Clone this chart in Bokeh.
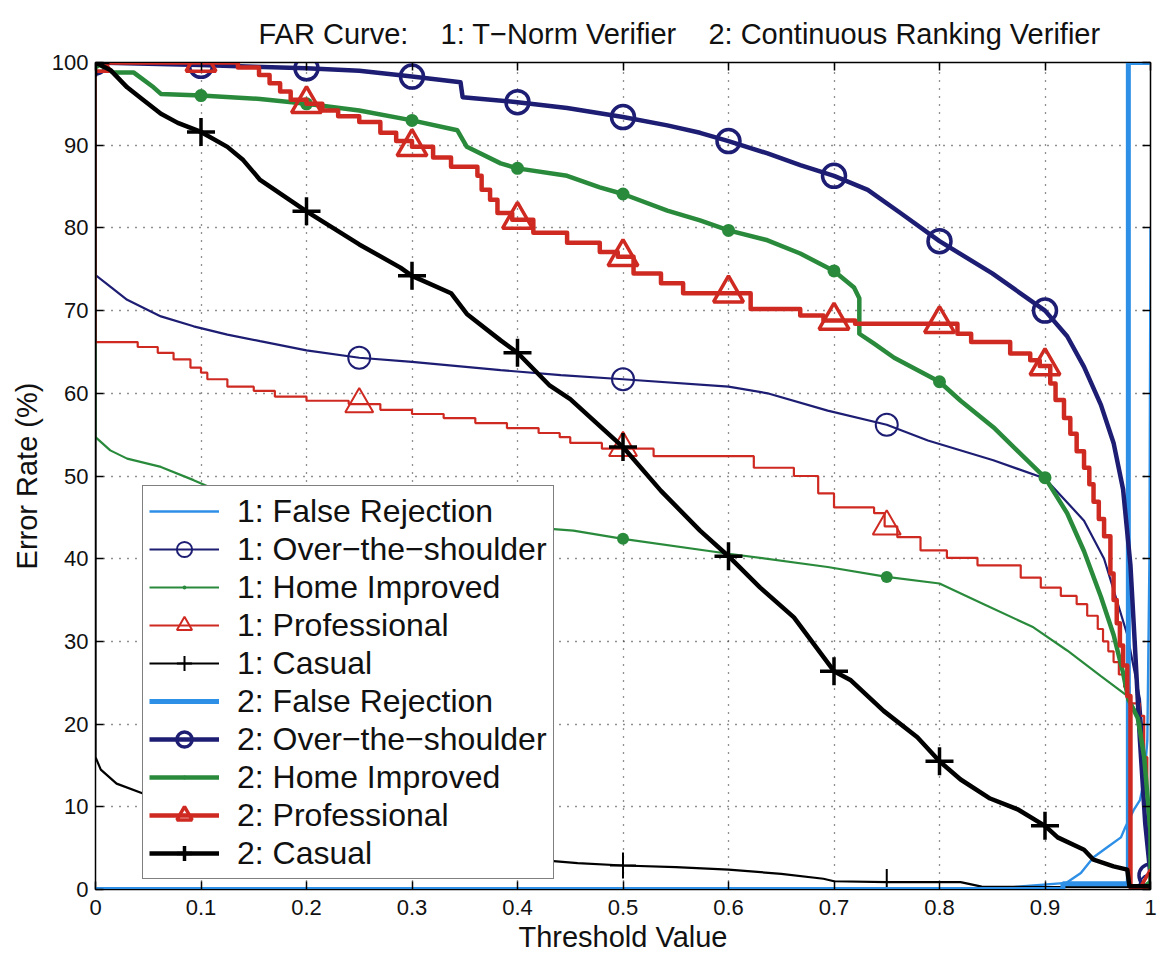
from bokeh.plotting import figure
from bokeh.models import (Range1d, LinearAxis, FixedTicker, CustomJSTickFormatter,
                          Legend, LegendItem)
from bokeh.embed import file_html
from bokeh.resources import INLINE

FONT = "Liberation Sans"
NB = "\u00a0"
TITLE = "FAR Curve:" + NB * 4 + "1: T\u2212Norm Verifier" + NB * 4 + "2: Continuous Ranking Verifier"

x_ticks = [0.0, 0.1, 0.2, 0.3, 0.4, 0.5, 0.6, 0.7, 0.8, 0.9, 1.0]
y_ticks = [0, 10, 20, 30, 40, 50, 60, 70, 80, 90, 100]

labels = ["1: False Rejection", "1: Over\u2212the\u2212shoulder", "1: Home Improved",
          "1: Professional", "1: Casual",
          "2: False Rejection", "2: Over\u2212the\u2212shoulder", "2: Home Improved",
          "2: Professional", "2: Casual"]

# marker positions (x) for thin (verifier 1) and thick (verifier 2) curves
thin_mx = [0.0, 0.25, 0.5, 0.75, 1.0]
thick_mx = [0.0, 0.1, 0.2, 0.3, 0.4, 0.5, 0.6, 0.7, 0.8, 0.9, 1.0]

# ---------------- 1: T-Norm verifier ----------------
fr1_x = [0.0, 0.85, 0.88, 0.92, 0.934, 0.946, 0.959, 0.972, 0.976, 0.984, 0.99, 0.994, 0.997, 0.999, 1.0]
fr1_y = [0.0, 0.0, 0.4, 0.8, 2.0, 3.9, 5.1, 6.3, 7.5, 9.6, 10.8, 13.2, 18.0, 40.0, 80.0]

ots1_x = [0.0, 0.0, 0.014, 0.03, 0.062, 0.093, 0.125, 0.156, 0.2, 0.25, 0.3, 0.384, 0.441, 0.5,
          0.6, 0.637, 0.694, 0.75, 0.789, 0.851, 0.9, 0.937, 0.956, 0.978, 0.99, 0.997, 1.0]
ots1_y = [100.0, 74.3, 72.9, 71.3, 69.3, 68.1, 67.1, 66.3, 65.2, 64.3, 63.8, 62.8, 62.2, 61.7,
          60.8, 60.0, 57.9, 56.2, 54.3, 51.9, 49.7, 44.6, 40.0, 30.8, 23.0, 11.5, 0.5]
ots1_my = [100.0, 64.3, 61.7, 56.2, 0.5]

hi1_x = [0.0, 0.0, 0.014, 0.03, 0.062, 0.093, 0.12, 0.2, 0.25, 0.3, 0.4, 0.453, 0.5, 0.6,
         0.694, 0.75, 0.8, 0.842, 0.889, 0.921, 0.953, 0.978, 0.99, 0.997, 1.0]
hi1_y = [100.0, 54.7, 53.1, 52.1, 51.1, 49.5, 48.0, 46.3, 45.4, 44.7, 43.9, 43.4, 42.4, 40.6,
         39.0, 37.8, 37.0, 34.5, 31.7, 28.9, 25.8, 23.4, 20.7, 11.5, 0.3]
hi1_my = [100.0, 45.4, 42.4, 37.8, 0.3]

pro1_x = [0.0, 0.0, 0.04, 0.059, 0.074, 0.09, 0.1, 0.106, 0.125, 0.15, 0.17, 0.2, 0.24, 0.27,
          0.3, 0.33, 0.36, 0.39, 0.42, 0.44, 0.45, 0.48, 0.529, 0.624, 0.662, 0.685, 0.7,
          0.738, 0.748, 0.76, 0.782, 0.807, 0.836, 0.877, 0.896, 0.915, 0.93, 0.94, 0.95,
          0.955, 0.96, 0.965, 0.97, 0.975, 0.98, 0.99, 0.994, 0.997, 1.0]
pro1_y = [100.0, 66.2, 65.6, 64.9, 64.1, 63.1, 62.5, 61.7, 60.8, 60.3, 59.6, 59.1, 58.7, 58.0,
          57.5, 57.0, 56.4, 55.8, 55.2, 54.7, 54.0, 53.3, 52.4, 51.0, 50.0, 47.9, 46.2,
          45.5, 43.9, 42.6, 41.0, 40.1, 39.2, 37.7, 36.5, 35.5, 34.5, 33.1, 31.5,
          30.0, 28.8, 27.5, 26.0, 24.5, 22.5, 21.0, 16.0, 10.0, 0.3]
pro1_my = [100.0, 58.7, 53.4, 43.9, 0.3]

cas1_x = [0.0, 0.0, 0.005, 0.02, 0.045, 0.1, 0.2, 0.3, 0.4, 0.457, 0.5, 0.55, 0.6, 0.65,
          0.69, 0.7, 0.75, 0.82, 0.84, 0.9, 0.98, 1.0]
cas1_y = [100.0, 16.0, 14.5, 12.8, 11.6, 9.5, 7.0, 5.3, 3.8, 3.2, 2.9, 2.7, 2.4, 1.9,
          1.3, 1.0, 0.9, 0.9, 0.35, 0.3, 0.3, 0.1]
cas1_my = [100.0, 6.0, 2.9, 0.9, 0.1]

# ---------------- 2: Continuous ranking verifier ----------------
fr2_x = [0.0, 0.917, 0.917, 0.979, 0.979, 1.0]
fr2_y = [0.0, 0.0, 0.7, 0.7, 100.0, 100.0]

ots2_x = [0.0, 0.1, 0.15, 0.2, 0.25, 0.3, 0.346, 0.348, 0.4, 0.447, 0.5, 0.542, 0.573, 0.6,
          0.637, 0.668, 0.7, 0.732, 0.763, 0.8, 0.85, 0.9, 0.921, 0.937, 0.953, 0.965, 0.974,
          0.981, 0.985, 0.99, 0.995, 1.0]
ots2_y = [100.0, 99.7, 99.5, 99.3, 99.0, 98.3, 97.6, 95.8, 95.2, 94.5, 93.4, 92.4, 91.5, 90.5,
          89.0, 87.6, 86.3, 84.6, 81.8, 78.4, 74.5, 70.0, 66.9, 63.2, 58.6, 54.0, 48.4,
          39.2, 30.0, 18.0, 8.0, 1.7]
ots2_my = [100.0, 99.6, 99.3, 98.3, 95.2, 93.4, 90.5, 86.3, 78.4, 70.0, 1.7]

hi2_x = [0.0, 0.017, 0.036, 0.055, 0.062, 0.1, 0.156, 0.2, 0.25, 0.3, 0.343, 0.352, 0.384,
         0.4, 0.447, 0.478, 0.5, 0.542, 0.573, 0.6, 0.637, 0.668, 0.7, 0.719, 0.724, 0.724,
         0.738, 0.757, 0.8, 0.82, 0.851, 0.9, 0.921, 0.937, 0.953, 0.965, 0.974, 0.979,
         0.988, 0.994, 1.0, 1.0]
hi2_y = [100.0, 98.8, 98.8, 97.0, 96.2, 96.0, 95.6, 95.0, 94.2, 93.0, 91.8, 89.8, 87.8,
         87.2, 86.3, 84.9, 84.1, 82.1, 80.9, 79.7, 78.5, 76.9, 74.8, 72.8, 71.5, 67.2,
         66.0, 64.3, 61.4, 59.1, 55.9, 49.8, 45.5, 40.9, 35.4, 30.8, 26.2, 23.0,
         20.7, 16.0, 7.0, 0.3]
hi2_my = [100.0, 96.0, 95.0, 93.0, 87.2, 84.1, 79.7, 74.8, 61.4, 49.8, 0.3]

pro2_x = [0.0, 0.135, 0.155, 0.165, 0.175, 0.185, 0.2, 0.215, 0.23, 0.25, 0.27, 0.285, 0.3,
          0.32, 0.337, 0.362, 0.366, 0.374, 0.381, 0.395, 0.415, 0.447, 0.478, 0.495, 0.51,
          0.536, 0.557, 0.621, 0.668, 0.69, 0.72, 0.817, 0.83, 0.867, 0.886, 0.895, 0.905,
          0.91, 0.918, 0.924, 0.93, 0.937, 0.942, 0.946, 0.951, 0.956, 0.962, 0.965, 0.968,
          0.971, 0.974, 0.978, 0.981, 1.0]
pro2_y = [100.0, 99.4, 98.5, 97.5, 96.5, 95.5, 95.0, 94.2, 93.5, 92.8, 91.5, 90.5, 89.8,
          88.5, 87.4, 86.3, 84.6, 83.4, 81.8, 81.0, 79.4, 78.2, 77.1, 76.5, 74.5,
          73.3, 72.1, 70.2, 69.4, 68.8, 68.4, 67.2, 66.2, 64.8, 64.0, 63.3, 61.2,
          59.2, 57.0, 55.1, 53.0, 51.0, 49.0, 46.9, 44.8, 42.7, 38.2, 35.0, 32.2,
          29.5, 27.1, 23.4, 0.3, 0.3]
pro2_my = [100.0, 100.0, 95.0, 89.8, 81.0, 76.5, 72.1, 68.8, 68.4, 63.3, 0.3]

cas2_x = [0.0, 0.014, 0.03, 0.045, 0.062, 0.078, 0.1, 0.125, 0.14, 0.156, 0.2, 0.25, 0.289,
          0.3, 0.337, 0.352, 0.384, 0.4, 0.43, 0.45, 0.5, 0.536, 0.573, 0.6, 0.63, 0.662,
          0.7, 0.716, 0.747, 0.779, 0.8, 0.82, 0.848, 0.874, 0.9, 0.912, 0.937, 0.946,
          0.965, 0.978, 0.98, 1.0]
cas2_y = [100.0, 99.1, 97.0, 95.5, 93.8, 92.7, 91.6, 89.8, 88.2, 85.8, 82.0, 78.0, 75.2,
          74.2, 72.1, 69.6, 66.4, 64.9, 61.0, 59.3, 53.5, 48.2, 43.4, 40.3, 36.5, 32.9,
          26.4, 25.3, 21.6, 18.4, 15.5, 13.3, 11.0, 9.7, 7.7, 6.3, 4.8, 3.6,
          2.8, 2.4, 0.4, 0.4]
cas2_my = [100.0, 91.6, 82.0, 74.2, 64.9, 53.5, 40.3, 26.4, 15.5, 7.7, 0.4]

LBLUE = "#2e8fe6"
NAVY = "#1d1d73"
GREEN = "#2a8a3c"
RED = "#cf2a22"
BLACK = "#000000"

p = figure(width=1166, height=962, output_backend="svg", toolbar_location=None,
           x_range=Range1d(0, 1), y_range=Range1d(0, 100),
           min_border_left=95, min_border_right=16, min_border_top=62, min_border_bottom=73,
           title=TITLE, background_fill_color="white", border_fill_color="white")

p.title.text_font = FONT
p.title.text_font_size = "29px"
p.title.text_font_style = "normal"
p.title.align = "left"
p.title.offset = 163
p.title.standoff = 25
p.title.text_color = "#111111"

p.outline_line_color = "black"
p.outline_line_width = 1.5

for ax in (p.xaxis[0], p.yaxis[0]):
    ax.major_tick_in = 8
    ax.major_tick_out = 0
    ax.minor_tick_line_color = None
    ax.axis_line_color = "black"
    ax.major_tick_line_color = "black"
    ax.major_tick_line_width = 1.5
    ax.major_label_text_font = FONT
    ax.major_label_text_font_size = "22px"
    ax.major_label_text_color = "#111111"
    ax.axis_label_text_font = FONT
    ax.axis_label_text_font_size = "29px"
    ax.axis_label_text_font_style = "normal"
    ax.axis_label_text_color = "#111111"

p.xaxis.ticker = FixedTicker(ticks=x_ticks)
p.yaxis.ticker = FixedTicker(ticks=y_ticks)
p.xaxis.formatter = CustomJSTickFormatter(
    code="return (Math.abs(tick) < 1e-9 || Math.abs(tick - 1) < 1e-9) ? tick.toFixed(0) : tick.toFixed(1);")
p.xaxis.axis_label = "Threshold Value"
p.yaxis.axis_label = "Error Rate (%)"
p.xaxis.major_label_standoff = 10
p.yaxis.major_label_standoff = 7
p.xaxis.axis_label_standoff = 3
p.yaxis.axis_label_standoff = 6

top_ax = LinearAxis(ticker=FixedTicker(ticks=x_ticks), major_label_text_font_size="0px",
                    major_label_text_color=None,
                    major_tick_in=8, major_tick_out=0, minor_tick_line_color=None,
                    axis_line_color="black", major_tick_line_color="black",
                    major_tick_line_width=1.5, major_label_standoff=0)
right_ax = LinearAxis(ticker=FixedTicker(ticks=y_ticks), major_label_text_font_size="0px",
                      major_label_text_color=None,
                      major_tick_in=8, major_tick_out=0, minor_tick_line_color=None,
                      axis_line_color="black", major_tick_line_color="black",
                      major_tick_line_width=1.5, major_label_standoff=0)
p.add_layout(top_ax, "above")
p.add_layout(right_ax, "right")

p.xgrid.ticker = FixedTicker(ticks=x_ticks)
p.ygrid.ticker = FixedTicker(ticks=y_ticks)
for g in (p.xgrid[0], p.ygrid[0]):
    g.grid_line_color = "#222222"
    g.grid_line_dash = "1 7"
    g.grid_line_width = 1.3

THIN = 2.2
THICK = 4.5

# verifier 1 (thin)
r_fr1 = p.line(fr1_x, fr1_y, line_color=LBLUE, line_width=2.4)
r_ots1 = p.line(ots1_x, ots1_y, line_color=NAVY, line_width=THIN)
m_ots1 = p.scatter(thin_mx, ots1_my, marker="circle", size=22, fill_color=None,
                   line_color=NAVY, line_width=2)
r_hi1 = p.line(hi1_x, hi1_y, line_color=GREEN, line_width=THIN)
m_hi1 = p.scatter(thin_mx, hi1_my, marker="dot", size=48, fill_color=GREEN,
                  line_color=GREEN, line_width=2)
r_pro1 = p.step(pro1_x, pro1_y, mode="after", line_color=RED, line_width=THIN)
m_pro1 = p.scatter(thin_mx, pro1_my, marker="triangle", size=28, fill_color=None,
                   line_color=RED, line_width=2)
r_cas1 = p.line(cas1_x, cas1_y, line_color=BLACK, line_width=THIN)
m_cas1 = p.scatter(thin_mx, cas1_my, marker="cross", size=26, line_color=BLACK, line_width=2)

# verifier 2 (thick)
r_fr2 = p.line(fr2_x, fr2_y, line_color=LBLUE, line_width=5)
r_ots2 = p.line(ots2_x, ots2_y, line_color=NAVY, line_width=THICK, line_join="round")
m_ots2 = p.scatter(thick_mx, ots2_my, marker="circle", size=23, fill_color=None,
                   line_color=NAVY, line_width=3.5)
r_hi2 = p.line(hi2_x, hi2_y, line_color=GREEN, line_width=THICK, line_join="round")
m_hi2 = p.scatter(thick_mx, hi2_my, marker="dot", size=52, fill_color=GREEN,
                  line_color=GREEN, line_width=3)
r_pro2 = p.step(pro2_x, pro2_y, mode="after", line_color=RED, line_width=THICK,
                line_join="round")
m_pro2 = p.scatter(thick_mx, pro2_my, marker="triangle", size=30, fill_color=None,
                   line_color=RED, line_width=3.5)
r_cas2 = p.line(cas2_x, cas2_y, line_color=BLACK, line_width=THICK, line_join="round")
m_cas2 = p.scatter(thick_mx, cas2_my, marker="cross", size=28, line_color=BLACK,
                   line_width=3.5)

renderer_sets = [[r_fr1], [r_ots1, m_ots1], [r_hi1, m_hi1], [r_pro1, m_pro1], [r_cas1, m_cas1],
                 [r_fr2], [r_ots2, m_ots2], [r_hi2, m_hi2], [r_pro2, m_pro2], [r_cas2, m_cas2]]
items = [LegendItem(label=lab, renderers=rs) for lab, rs in zip(labels, renderer_sets)]

legend = Legend(items=items, location=(47, 10), margin=0, padding=6, spacing=0,
                glyph_width=70, glyph_height=38, label_standoff=18,
                label_text_font=FONT, label_text_font_size="32px", label_text_color="#111111",
                border_line_color="black", border_line_width=1.5,
                background_fill_color="white", background_fill_alpha=1.0)
p.add_layout(legend)

open("out.html", "w").write(file_html(p, INLINE))
